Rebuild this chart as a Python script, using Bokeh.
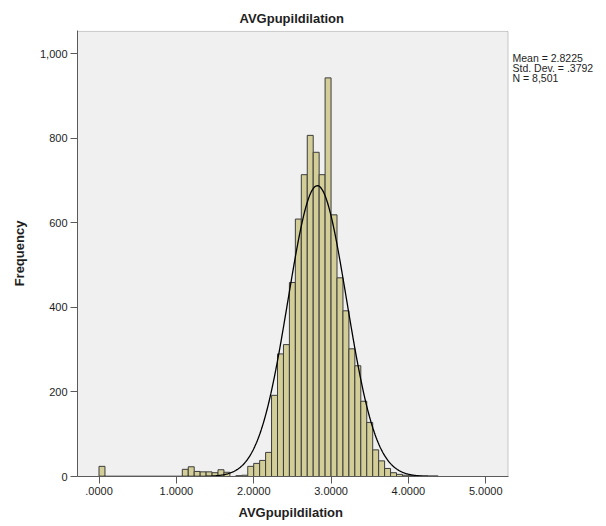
import numpy as np
from bokeh.plotting import figure
from bokeh.models import Range1d, FixedTicker, NumeralTickFormatter, BoxAnnotation, Title
from bokeh.core.properties import value
from bokeh.embed import file_html
from bokeh.resources import INLINE

# ---- data ----
title_text = "AVGpupildilation"
x_label = "AVGpupildilation"
y_label = "Frequency"

bin_width = 1 / 13  # histogram bin width (bins start at .0000)
counts = [24, 0, 0, 0, 0, 0, 0, 0, 0, 0, 0, 0, 0, 0,
          17, 23, 12, 11, 11, 9, 16, 10,
          0, 2, 3,
          24, 31, 38, 57, 192, 290, 312, 459, 609, 714, 807, 767, 714, 943, 619,
          470, 392, 302, 262, 178, 128, 63, 37, 19, 9, 5, 3, 2, 1, 1, 1, 1]

mean_val = 2.8225
std_val = 0.3792
n_val = 8501
stats_lines = ["Mean = 2.8225", "Std. Dev. = .3792", "N = 8,501"]

x_ticks = [0, 1, 2, 3, 4, 5]
x_tick_labels = [".0000", "1.0000", "2.0000", "3.0000", "4.0000", "5.0000"]
y_ticks = [0, 200, 400, 600, 800, 1000]

# ---- derived ----
idx = [i for i, c in enumerate(counts) if c > 0]
lefts = [i * bin_width for i in idx]
rights = [(i + 1) * bin_width for i in idx]
tops = [counts[i] for i in idx]

xs = np.linspace(0, len(counts) * bin_width, 500)
curve = n_val * bin_width * np.exp(-0.5 * ((xs - mean_val) / std_val) ** 2) / (std_val * np.sqrt(2 * np.pi))

FONT = "Liberation Sans"
X_LO, X_HI = -0.278, 5.288      # visible chart area (grey box)
Y_HI = 1053

p = figure(width=606, height=526, output_backend="svg", toolbar_location=None,
           x_range=Range1d(X_LO, 6.561), y_range=Range1d(0, 1055.1),
           min_border_left=77, min_border_right=0, min_border_top=30, min_border_bottom=50)
p.background_fill_color = "white"
p.border_fill_color = "white"
p.outline_line_color = None
p.xgrid.visible = False
p.ygrid.visible = False

# grey plotting area with border
p.add_layout(BoxAnnotation(right=X_HI, top=Y_HI, fill_color="#F0F0F0", fill_alpha=1,
                           line_color="#5A5A5A", line_width=1, level="underlay"))

p.title.text = title_text
p.title.align = "left"
p.title.offset = 162
p.title.text_font = FONT
p.title.text_font_size = "13px"
p.title.text_font_style = "bold"
p.title.text_color = "#1E1E1E"
p.title.standoff = 10

p.quad(left=lefts, right=rights, bottom=0, top=tops,
       fill_color="#D3CE97", line_color="#3C3C3C", line_width=1)
p.line(xs, curve, line_color="black", line_width=1.3)

for ax in (p.xaxis[0], p.yaxis[0]):
    ax.axis_line_color = "#5A5A5A"
    ax.major_tick_line_color = "#5A5A5A"
    ax.major_tick_out = 7
    ax.major_tick_in = 0
    ax.minor_tick_line_color = None
    ax.major_label_text_font = FONT
    ax.major_label_text_font_size = "11px"
    ax.major_label_text_color = "#1E1E1E"
    ax.axis_label_text_font = FONT
    ax.axis_label_text_font_size = "13px"
    ax.axis_label_text_font_style = "bold"
    ax.axis_label_text_color = "#1E1E1E"

p.xaxis.bounds = (X_LO, X_HI)
p.xaxis.ticker = FixedTicker(ticks=x_ticks)
p.xaxis.major_label_overrides = {t: l for t, l in zip(x_ticks, x_tick_labels)}
p.xaxis.major_label_standoff = 3

# x-axis title, centred under the grey area
p.add_layout(Title(text=x_label, align="left", offset=161, standoff=11,
                   text_font=FONT, text_font_size="13px", text_font_style="bold",
                   text_color="#1E1E1E"), "below")

p.yaxis.ticker = FixedTicker(ticks=y_ticks)
p.yaxis.formatter = NumeralTickFormatter(format="0,0")
p.yaxis.axis_label = y_label
p.yaxis.major_label_standoff = 3
p.yaxis.axis_label_standoff = 10

# statistics text to the right of the grey area
p.text(x=[5.346] * 3, y=[988.9, 966.4, 943.9], text=stats_lines,
       text_font=value(FONT), text_font_size="10.5px", text_color="#1E1E1E",
       text_baseline="alphabetic", text_align="left")

open("out.html", "w").write(file_html(p, INLINE))
